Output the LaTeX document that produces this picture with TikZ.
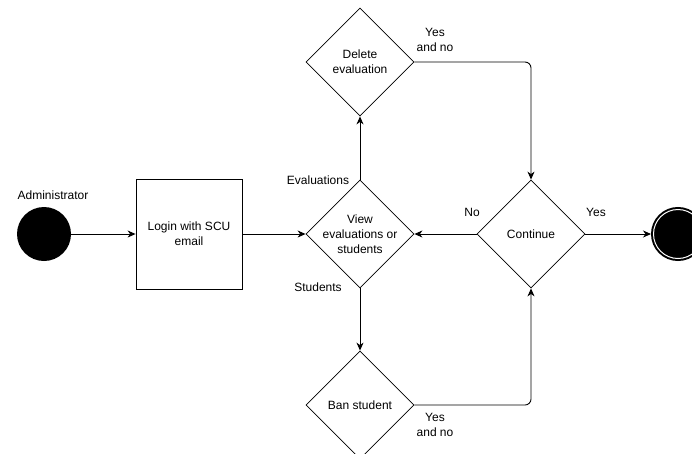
\documentclass[tikz,border=0pt]{standalone}
\usepackage{fontspec}
\setmainfont{Liberation Sans}
\usetikzlibrary{shapes.geometric,arrows.meta}

\tikzset{
  flow/.style={draw, line width=0.9pt, -{Stealth[length=8pt,width=7pt,inset=2.5pt]}},
  decision/.style={draw, diamond, line width=0.8pt, minimum width=108pt, minimum height=108pt, inner sep=0pt},
  box/.style={draw, line width=0.8pt, minimum width=106pt, minimum height=110pt, align=center},
  txt/.style={align=center, inner sep=0pt}
}

\begin{document}
\begin{tikzpicture}[x=1pt, y=-1pt, font=\fontsize{12}{15}\selectfont]
  \useasboundingbox (0,0) rectangle (692,453);

  % Start and end states
  \node[circle, fill=black, minimum size=54pt, inner sep=0pt] (start) at (44,234) {};
  \node[txt] (admin) at (53,195) {Administrator};
  \node[circle, fill=black, draw=white, line width=1pt, minimum size=49pt, inner sep=0pt,
        outer sep=2.5pt, preaction={draw=black, line width=5pt}] (stop) at (678,234) {};

  % Login step
  \node[box] (login) at (189,234) {Login with SCU\\email};

  % Decisions
  \node[decision, label={[txt]center:{View\\evaluations or\\students}}] (view) at (360,234) {};
  \node[decision, label={[txt]center:{Delete\\evaluation}}] (delete) at (360,62) {};
  \node[decision, label={[txt]center:{Ban student}}] (ban) at (360,405) {};
  \node[decision, label={[txt]center:{Continue}}] (cont) at (531,234) {};

  % Connectors
  \draw[flow] (start) -- (login);
  \draw[flow] (login) -- (view);
  \draw[flow] (view) -- (delete);
  \draw[flow] (view) -- (ban);
  \draw[flow, rounded corners=6pt] (delete.east) -| (cont.north);
  \draw[flow, rounded corners=6pt] (ban.east) -| (cont.south);
  \draw[flow] (cont) -- (view);
  \draw[flow] (cont) -- (stop);

  % Branch labels
  \node[txt] (evallbl) at (318,180) {Evaluations};
  \node[txt] (studlbl) at (318,287) {Students};
  \node[txt] (nolbl) at (472,212) {No};
  \node[txt] (yeslbl) at (596,212) {Yes};
  \foreach \y/\name in {40/delyes, 425/banyes}
    \node[txt] (\name) at (435,\y) {Yes\\and no};
\end{tikzpicture}
\end{document}
